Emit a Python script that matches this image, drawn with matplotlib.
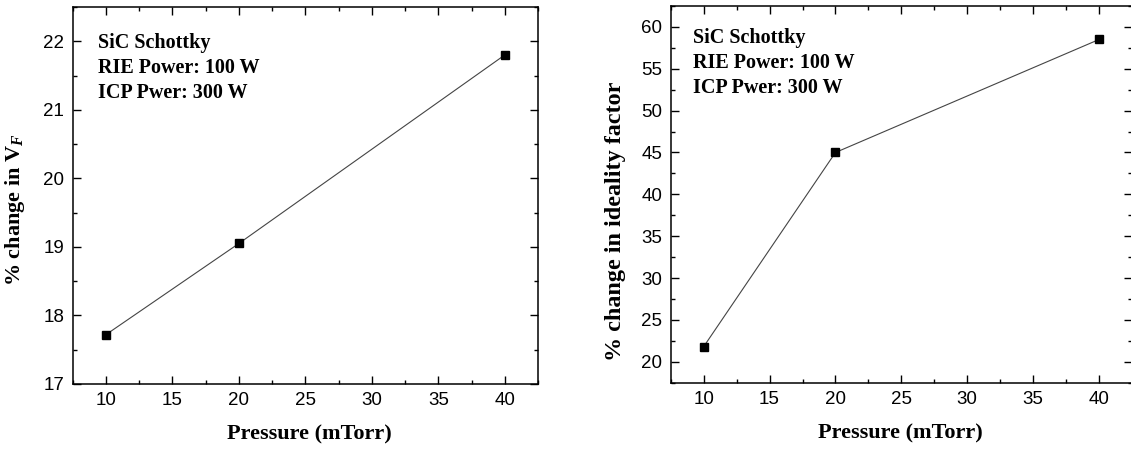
import matplotlib
matplotlib.use("Agg")
import matplotlib.pyplot as plt
from matplotlib.ticker import MultipleLocator

# Data
pressure = [10, 20, 40]
vf_change = [17.72, 19.05, 21.8]
ideality_change = [21.8, 45.0, 58.5]
x_ticks = [10, 15, 20, 25, 30, 35, 40]
info_lines = ["SiC Schottky", "RIE Power: 100 W", "ICP Pwer: 300 W"]

plt.rcParams['mathtext.fontset'] = 'custom'
plt.rcParams['mathtext.rm'] = 'Liberation Serif:bold'
plt.rcParams['mathtext.it'] = 'Liberation Serif:bold:italic'
plt.rcParams['mathtext.bf'] = 'Liberation Serif:bold'

W, H = 1131, 450
fig = plt.figure(figsize=(W / 100, H / 100), dpi=100)

def px_axes(l, t, r, b):
    return fig.add_axes([l / W, 1 - b / H, (r - l) / W, (b - t) / H])

ax1 = px_axes(72.7, 7, 538, 384)
ax2 = px_axes(670.7, 6, 1132, 382.7)

serif = dict(family='Liberation Serif', weight='bold')
tickfont = 'Liberation Sans'

def style(ax, ylim, ymaj, ymin):
    ax.set_xlim(7.5, 42.5)
    ax.set_ylim(*ylim)
    ax.set_xticks(x_ticks)
    ax.xaxis.set_minor_locator(MultipleLocator(2.5))
    ax.yaxis.set_major_locator(MultipleLocator(ymaj))
    ax.yaxis.set_minor_locator(MultipleLocator(ymin))
    ax.tick_params(which='both', direction='in', top=True, right=True,
                   width=1.0, color='black')
    ax.tick_params(which='major', length=5.8)
    ax.tick_params(which='minor', length=2.9)
    ax.tick_params(axis='x', which='major', pad=6)
    ax.tick_params(axis='y', which='major', pad=6)
    for lab in ax.get_xticklabels() + ax.get_yticklabels():
        lab.set_fontfamily(tickfont)
        lab.set_fontsize(13.5)
    for sp in ax.spines.values():
        sp.set_linewidth(1.1)
        sp.set_color('black')

def draw(ax, y, text_x, text_ys):
    ax.plot(pressure, y, color='#444444', lw=0.8, marker='s', markersize=5.3,
            markerfacecolor='black', markeredgecolor='black')
    for line, ty in zip(info_lines, text_ys):
        ax.text(text_x, ty, line, transform=ax.transAxes, fontsize=14.5,
                va='center', ha='left', **serif)

style(ax1, (17, 22.5), 1, 0.5)
style(ax2, (17.5, 62.5), 5, 2.5)

def fx(ax_l, ax_r, x):
    return (x - ax_l) / (ax_r - ax_l)

def fy(ax_t, ax_b, y):
    return (ax_b - y) / (ax_b - ax_t)

draw(ax1, vf_change, fx(72.7, 538, 98.3), [fy(7, 384, v) for v in (43, 68, 93)])
draw(ax2, ideality_change, fx(670.7, 1132, 693), [fy(6, 382.7, v) for v in (38, 63, 88)])

ax1.set_xlabel('Pressure (mTorr)', fontsize=16, **serif)
ax2.set_xlabel('Pressure (mTorr)', fontsize=16, **serif)
ax1.set_ylabel(r'% change in V$_F$', fontsize=16, **serif)
ax2.set_ylabel('% change in ideality factor', fontsize=17.4, **serif)

ax1.xaxis.set_label_coords(fx(72.7, 538, 309), fy(7, 384, 434))
ax2.xaxis.set_label_coords(fx(670.7, 1132, 900), fy(6, 382.7, 433))
ax1.yaxis.set_label_coords(fx(72.7, 538, 15), fy(7, 384, 210))
ax2.yaxis.set_label_coords(fx(670.7, 1132, 616), fy(6, 382.7, 221))
for ax in (ax1, ax2):
    ax.xaxis.label.set_va('center')
    ax.yaxis.label.set_va('center')

fig.savefig('out.png', dpi=100)
